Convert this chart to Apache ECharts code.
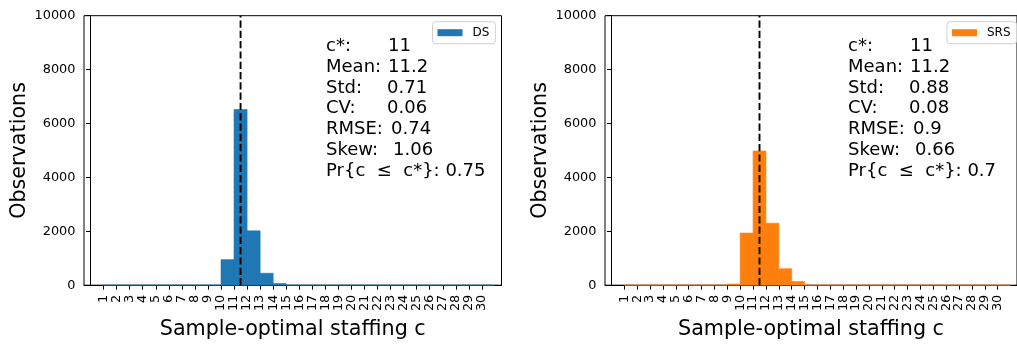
<!DOCTYPE html>
<html><head><meta charset="utf-8">
<script src="https://cdn.jsdelivr.net/npm/echarts@6/dist/echarts.min.js"></script>
<style>html,body{margin:0;padding:0;background:#fff}#c{width:1017px;height:345px}</style>
</head><body><div id="c"></div><script>
// ---- data ----
const staffing = [1,2,3,4,5,6,7,8,9,10,11,12,13,14,15,16,17,18,19,20,21,22,23,24,25,26,27,28,29,30];
const dsCounts  = [0,0,0,0,0,0,0,0,0,948,6520,2018,443,63,0,0,0,0,0,0,0,0,0,0,0,0,0,0,0,0];
const srsCounts = [0,0,0,0,0,0,0,0,40,1935,4980,2300,612,136,0,0,0,0,0,0,0,0,0,0,0,0,0,0,0,0];
const cStar = 11;
const yTicks = [0,2000,4000,6000,8000,10000];
const statLabels = ['c*:','Mean:','Std:','CV:','RMSE:','Skew:','Pr{c  ≤  c*}:'];
const dsStats  = ['11','11.2','0.71','0.06','0.74','1.06','0.75'];
const srsStats = ['11','11.2','0.88','0.08','0.9','0.66','0.7'];
const seriesNames = ['DS','SRS'];
const colors = ['#1f77b4','#ff7f0e'];
const xTitle = 'Sample-optimal staffing c';
const yTitle = 'Observations';

// ---- chart ----
const FONT = 'DejaVu Sans';
const STAT_FONT = '18px "DejaVu Sans"';
const LINE_H = 20.8;
const valueOffsets = [62, 62, 61, 61, 65, 67, null]; // text layout: x offset where each value starts
const chart = echarts.init(document.getElementById('c'), null, {renderer:'canvas'});
const grids = [
  {left:84, top:15.7, width:417.5, height:271},
  {left:605, top:15.7, width:417, height:271}
];
function xAxis(i){
  return {gridIndex:i, type:'value', min:-0.5, max:31.5,
    name:xTitle, nameLocation:'middle', nameGap:31,
    nameTextStyle:{fontFamily:FONT, fontSize:20.7, color:'#000'},
    axisLine:{show:true, lineStyle:{color:'#000', width:1}},
    axisTick:{show:true, customValues:staffing, length:4.5, lineStyle:{color:'#000', width:1}},
    axisLabel:{customValues:staffing, rotate:90, margin:9.5, fontFamily:FONT, fontSize:12.9, color:'#000',
      formatter:v=>String(v)},
    splitLine:{show:false}};
}
function yAxis(i){
  return {gridIndex:i, type:'value', min:yTicks[0], max:yTicks[yTicks.length-1], interval:yTicks[1]-yTicks[0],
    name:yTitle, nameLocation:'middle', nameGap:44,
    nameTextStyle:{fontFamily:FONT, fontSize:20.7, color:'#000'},
    axisLine:{show:true, lineStyle:{color:'#000', width:1}},
    axisTick:{show:true, length:4.5, lineStyle:{color:'#000', width:1}},
    axisLabel:{margin:8.5, fontFamily:FONT, fontSize:12.9, color:'#000', formatter:v=>String(v)},
    splitLine:{show:false}};
}
function histSeries(i, counts){
  return {type:'custom', name:seriesNames[i], xAxisIndex:i, yAxisIndex:i,
    itemStyle:{color:colors[i]},
    data: staffing.map((k,j)=>[k, k+1, counts[j]]),
    encode:{x:[0,1], y:2},
    renderItem:function(params, api){
      const p0 = api.coord([api.value(0), 0]);
      const p1 = api.coord([api.value(1), api.value(2)]);
      return {type:'rect',
        shape:{x:p0[0], y:p1[1], width:p1[0]-p0[0], height:p0[1]-p1[1]},
        style:{fill:colors[i], stroke:colors[i], lineWidth:0.6}};
    }};
}
function cLine(i){
  return {type:'line', name:'c*'+i, xAxisIndex:i, yAxisIndex:i, symbol:'none', silent:true,
    data:[[cStar+0.5, yTicks[0]],[cStar+0.5, yTicks[yTicks.length-1]]],
    lineStyle:{color:'#000', width:1.9, type:[7.2,3.1]}, z:5};
}
function statsText(x, vals){
  const els = [];
  statLabels.forEach((l,j)=>{
    const top = 37.3 + j*LINE_H;
    if (valueOffsets[j] == null) {
      els.push({type:'text', left:x, top:top, z:10,
        style:{text:l+' '+vals[j], font:STAT_FONT, fill:'#000'}});
    } else {
      els.push({type:'text', left:x, top:top, z:10, style:{text:l, font:STAT_FONT, fill:'#000'}});
      els.push({type:'text', left:x+valueOffsets[j], top:top, z:10, style:{text:vals[j], font:STAT_FONT, fill:'#000'}});
    }
  });
  return els;
}
function legend(i, left){
  return {data:[seriesNames[i]], left:left, top:21.7, orient:'horizontal',
    icon:'rect', itemWidth:25, itemHeight:7, itemGap:0,
    padding:[4,6,4,5], backgroundColor:'#fff', borderColor:'#d0d0d0', borderWidth:1, borderRadius:3,
    textStyle:{fontFamily:FONT, fontSize:12, color:'#000', lineHeight:14, padding:[0,0,0,5]}};
}
chart.setOption({
  animation:false,
  backgroundColor:'#fff',
  grid: grids.map(g=>Object.assign({show:true, borderColor:'#000', borderWidth:1, backgroundColor:'transparent'}, g)),
  xAxis:[xAxis(0), xAxis(1)],
  yAxis:[yAxis(0), yAxis(1)],
  legend:[legend(0, 432.5), legend(1, 947)],
  series:[histSeries(0, dsCounts), histSeries(1, srsCounts), cLine(0), cLine(1)],
  graphic:statsText(326, dsStats).concat(statsText(848, srsStats))
});
</script></body></html>
